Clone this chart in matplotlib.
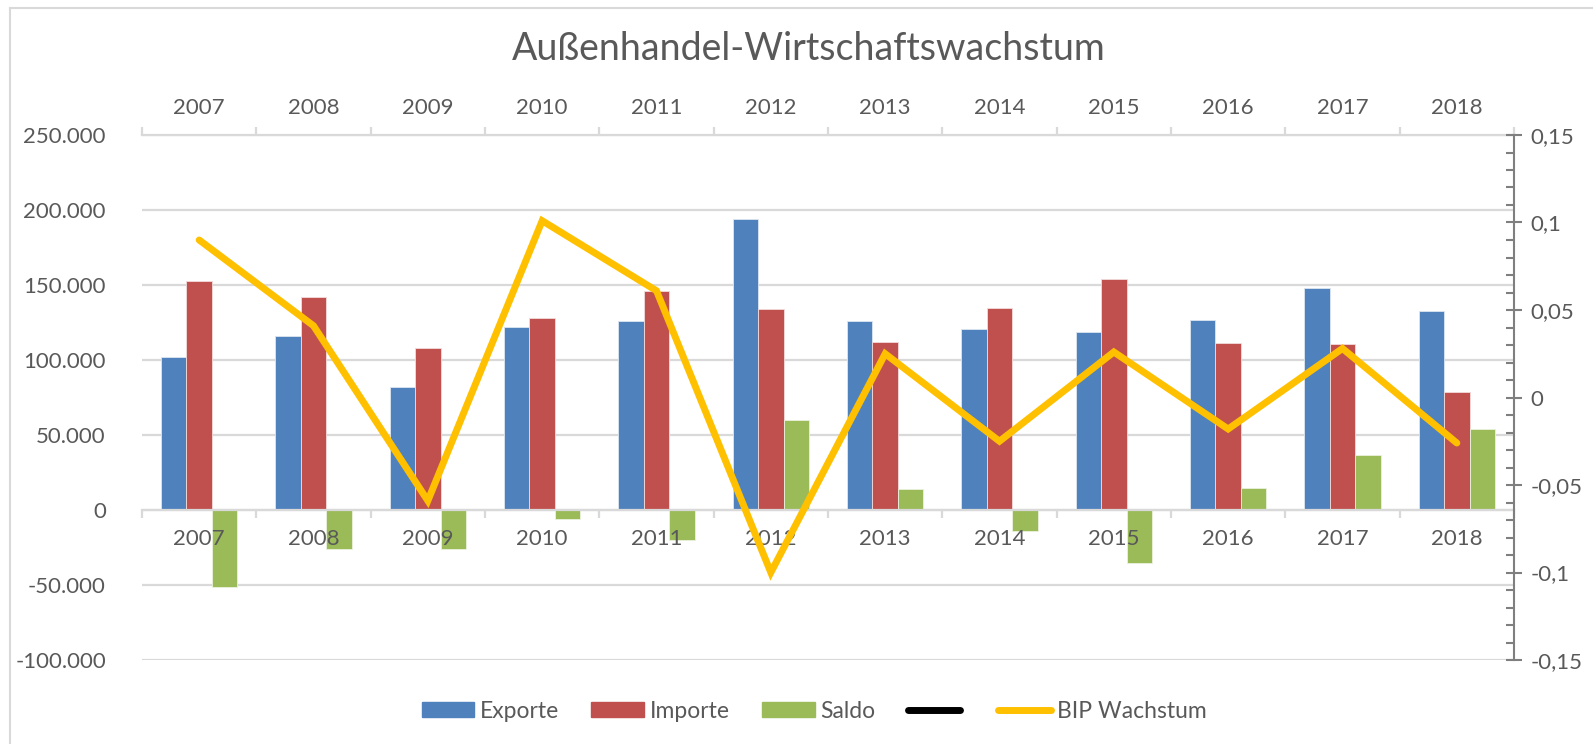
import matplotlib
matplotlib.use("Agg")
import matplotlib.pyplot as plt
from matplotlib.ticker import FuncFormatter, MultipleLocator, FixedLocator
from matplotlib.patches import Patch
from matplotlib.lines import Line2D
import numpy as np

years = ["2007", "2008", "2009", "2010", "2011", "2012",
         "2013", "2014", "2015", "2016", "2017", "2018"]
exporte = [102000, 116000, 82000, 122000, 126000, 194000,
           126000, 121000, 119000, 126500, 148000, 133000]
importe = [153000, 142000, 108000, 128000, 146000, 134000,
           112000, 135000, 154000, 111500, 111000, 79000]
saldo = [-51000, -26000, -26000, -6000, -20000, 60000,
         14000, -14000, -35000, 15000, 37000, 54000]
bip = [0.090, 0.041, -0.059, 0.101, 0.061, -0.100,
       0.025, -0.025, 0.026, -0.018, 0.028, -0.026]

plt.rcParams['font.family'] = ['Lato', 'DejaVu Sans']
txt = '#595959'
grid = '#D9D9D9'

W, H = 1593, 744
fig = plt.figure(figsize=(W / 100, H / 100), dpi=100)
left, right, top, bottom = 142, 1514, 135, 660
ax = fig.add_axes([left / W, 1 - bottom / H, (right - left) / W, (bottom - top) / H])

x = np.arange(len(years))
bw = 0.222
ax.bar(x - bw, exporte, bw, color='#4F81BD', edgecolor='#DCE6F1', linewidth=0.6, zorder=3)
ax.bar(x, importe, bw, color='#C0504D', edgecolor='#F2DCDB', linewidth=0.6, zorder=3)
ax.bar(x + bw, saldo, bw, color='#9BBB59', edgecolor='#EBF1DE', linewidth=0.6, zorder=3)

ax.set_xlim(-0.5, len(years) - 0.5)
ax.set_ylim(-100000, 250000)
ax.yaxis.set_major_locator(MultipleLocator(50000))
ax.yaxis.set_major_formatter(FuncFormatter(lambda v, p: f"{int(v):,}".replace(',', '.')))
ax.grid(axis='y', color=grid, linewidth=1.6, zorder=0)
for s in ['left', 'right', 'top']:
    ax.spines[s].set_visible(False)
ax.spines['bottom'].set_position(('data', 0))
ax.spines['bottom'].set_color(grid)
ax.spines['bottom'].set_linewidth(1.6)
ax.spines['bottom'].set_zorder(4)
ax.tick_params(axis='y', length=0, pad=26, labelsize=16, labelcolor=txt)
ax.set_xticks(x)
ax.set_xticklabels(years)
ax.xaxis.set_minor_locator(FixedLocator(np.arange(-0.5, len(years), 1)))
ax.tick_params(axis='x', which='major', length=0, pad=14, labelsize=16, labelcolor=txt)
ax.tick_params(axis='x', which='minor', length=6, width=1.6, color=grid, direction='out')
ax.xaxis.set_zorder(5)

# top category axis (secondary horizontal axis of the line)
sec = ax.secondary_xaxis('top')
sec.set_xticks(x)
sec.set_xticklabels(years)
sec.xaxis.set_minor_locator(FixedLocator(np.arange(-0.5, len(years), 1)))
sec.tick_params(axis='x', which='major', length=0, pad=12.5, labelsize=16, labelcolor=txt)
sec.tick_params(axis='x', which='minor', length=6, width=1.6, color=grid, direction='out')
sec.spines['top'].set_color(grid)
sec.spines['top'].set_linewidth(1.6)

# right axis for growth
ax2 = ax.twinx()
ax2.plot(x, bip, color='#FFC000', linewidth=5, solid_capstyle='round',
         solid_joinstyle='miter', zorder=5)
ax2.set_ylim(-0.15, 0.15)
ax2.yaxis.set_major_locator(MultipleLocator(0.05))
ax2.yaxis.set_minor_locator(MultipleLocator(0.01))


def comma(v, p):
    if abs(v) < 1e-9:
        return "0"
    return f"{v:g}".replace('.', ',')


ax2.yaxis.set_major_formatter(FuncFormatter(comma))
for s in ['left', 'top', 'bottom']:
    ax2.spines[s].set_visible(False)
ax2.spines['right'].set_color('#7F7F7F')
ax2.spines['right'].set_linewidth(1.5)
ax2.tick_params(axis='y', which='major', direction='inout', length=12, width=1.5,
                color='#7F7F7F', pad=6, labelsize=16, labelcolor=txt)
ax2.tick_params(axis='y', which='minor', direction='in', length=6, width=1.5, color='#7F7F7F')

fig.text(0.508, 1 - 49 / H, "Außenhandel-Wirtschaftswachstum", ha='center', va='center',
         fontsize=27, color=txt)

handles = [Patch(color='#4F81BD'), Patch(color='#C0504D'), Patch(color='#9BBB59'),
           Line2D([], [], color='black', lw=5, solid_capstyle='round'),
           Line2D([], [], color='#FFC000', lw=5, solid_capstyle='round')]
labels = ["Exporte", "Importe", "Saldo", "", "BIP Wachstum"]
fig.legend(handles, labels, loc='center', bbox_to_anchor=(0.511, 1 - 711 / H), ncol=5,
           frameon=False, fontsize=16.5, labelcolor=txt, handlelength=2.3,
           handleheight=0.6, handletextpad=0.25, columnspacing=1.4)

# chart area border
fig.add_artist(Line2D([10 / W, 1], [1 - 8 / H, 1 - 8 / H], color=grid, lw=1.5))
fig.add_artist(Line2D([10 / W, 10 / W], [0, 1 - 8 / H], color=grid, lw=1.5))

fig.savefig("out.png", dpi=100)
